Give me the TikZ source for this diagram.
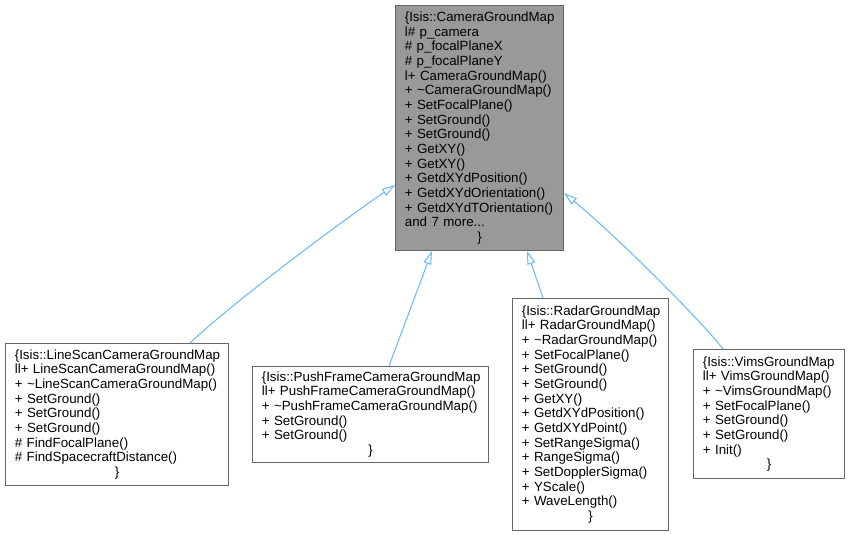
\documentclass[tikz,border=0pt]{standalone}
\usepackage{fontspec}
\setmainfont{Liberation Sans}
\usepackage{tikz}
\usetikzlibrary{arrows.meta}
\usetikzlibrary{calc}

\definecolor{edgeBlue}{HTML}{63B8FF}
\definecolor{boxGray}{HTML}{666666}
\definecolor{baseFill}{HTML}{999999}
\hyphenpenalty=10000

\begin{document}
\begin{tikzpicture}[x=0.75pt, y=-0.75pt, inner ysep=0pt, inner xsep=7pt]
            \useasboundingbox (0,0) rectangle (850,535);

            \tikzstyle{classBox}=[draw=boxGray, line width=0.75pt, fill=white, anchor=north west, align=left, font=\fontsize{10}{11}\selectfont];
            \tikzstyle{inheritArrow}=[draw=edgeBlue, line width=0.75pt, -{Triangle[open, length=10pt, width=6pt]}];

            \node[classBox, fill=baseFill, text width=112pt, minimum height=183.75pt] (base) at (395,5) {\{Isis::CameraGroundMap\\l\# p\_camera\\\# p\_focalPlaneX\\\# p\_focalPlaneY\\l+ CameraGroundMap()\\+ \textasciitilde CameraGroundMap()\\+ SetFocalPlane()\\+ SetGround()\\+ SetGround()\\+ GetXY()\\+ GetXY()\\+ GetdXYdPosition()\\+ GetdXYdOrientation()\\+ GetdXYdTOrientation()\\and 7 more...\\\makebox[\linewidth]{\}}};
            \node[classBox, text width=153.25pt, minimum height=106.5pt] (lineScan) at (5,343) {\{Isis::LineScanCameraGroundMap\\ll+ LineScanCameraGroundMap()\\+ \textasciitilde LineScanCameraGroundMap()\\+ SetGround()\\+ SetGround()\\+ SetGround()\\\# FindFocalPlane()\\\# FindSpacecraftDistance()\\\makebox[\linewidth]{\}}};
            \node[classBox, text width=163pt, minimum height=72pt] (pushFrame) at (252,366) {\{Isis::PushFrameCameraGroundMap\\ll+ PushFrameCameraGroundMap()\\+ \textasciitilde PushFrameCameraGroundMap()\\+ SetGround()\\+ SetGround()\\\makebox[\linewidth]{\}}};
            \node[classBox, text width=103pt, minimum height=174pt] (radar) at (512,298) {\{Isis::RadarGroundMap\\ll+ RadarGroundMap()\\+ \textasciitilde RadarGroundMap()\\+ SetFocalPlane()\\+ SetGround()\\+ SetGround()\\+ GetXY()\\+ GetdXYdPosition()\\+ GetdXYdPoint()\\+ SetRangeSigma()\\+ RangeSigma()\\+ SetDopplerSigma()\\+ YScale()\\+ WaveLength()\\\makebox[\linewidth]{\}}};
            \node[classBox, text width=99.25pt, minimum height=96.75pt] (vims) at (693,349) {\{Isis::VimsGroundMap\\ll+ VimsGroundMap()\\+ \textasciitilde VimsGroundMap()\\+ SetFocalPlane()\\+ SetGround()\\+ SetGround()\\+ Init()\\\makebox[\linewidth]{\}}};

            \draw[inheritArrow] ($(lineScan.north west)+(185,0)$) .. controls +(40,-38) and +(-59,40) .. ($(base.north west)+(0,180)$);
            \draw[inheritArrow] ($(pushFrame.north west)+(137,0)$) -- ($(base.south west)+(37,0)$);
            \draw[inheritArrow] ($(radar.north west)+(31,0)$) -- ($(base.south west)+(132,0)$);
            \draw[inheritArrow] ($(vims.north west)+(30,0)$) .. controls +(-18,-24) and +(57,47) .. ($(base.north east)+(0,188)$);
         \end{tikzpicture}
\end{document}
